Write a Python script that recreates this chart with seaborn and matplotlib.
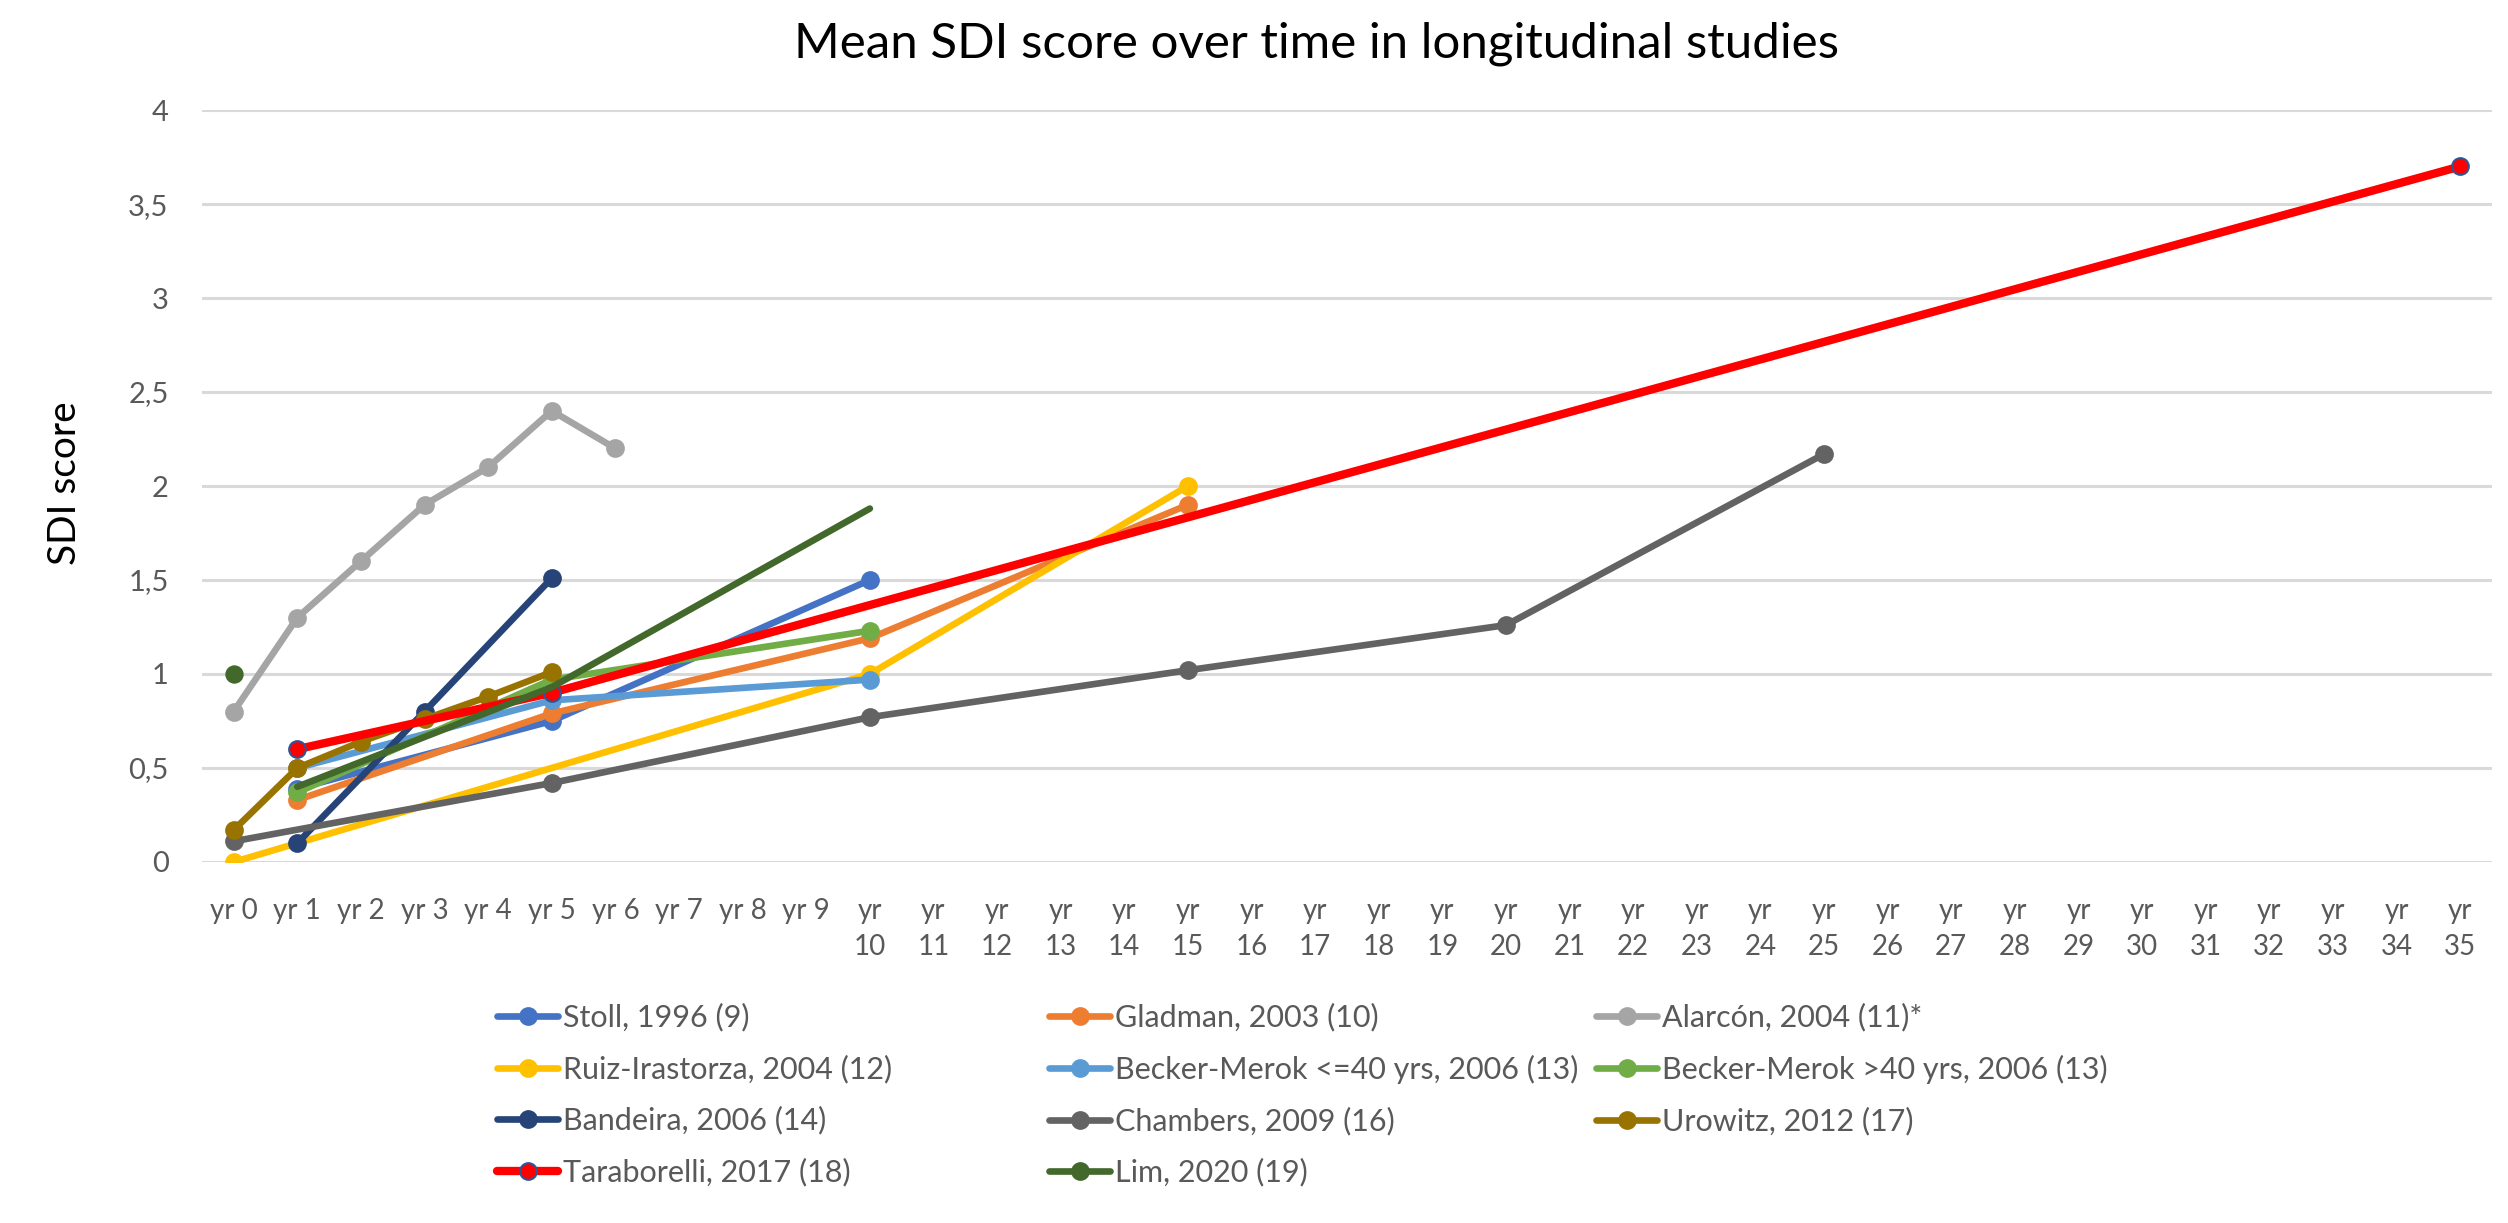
import matplotlib
matplotlib.use("Agg")
import matplotlib.pyplot as plt
import seaborn as sns
import pandas as pd
from matplotlib.lines import Line2D

sns.set_theme(style="white")
plt.rcParams['font.family'] = ['Lato', 'DejaVu Sans']

# ---------------- data ----------------
years = list(range(0, 36))
tick_labels = [f"yr {i}" for i in range(10)] + [f"yr\n{i}" for i in range(10, 36)]

stoll_x = [1, 5, 10]
stoll_y = [0.39, 0.75, 1.50]
gladman_x = [1, 5, 10, 15]
gladman_y = [0.33, 0.79, 1.19, 1.90]
alarcon_x = [0, 1, 2, 3, 4, 5, 6]
alarcon_y = [0.80, 1.30, 1.60, 1.90, 2.10, 2.40, 2.20]
ruiz_x = [0, 10, 15]
ruiz_y = [0.00, 1.00, 2.00]
becker40_x = [1, 5, 10]
becker40_y = [0.50, 0.86, 0.97]
beckerover_x = [1, 5, 10]
beckerover_y = [0.37, 0.97, 1.23]
bandeira_x = [1, 3, 5]
bandeira_y = [0.10, 0.80, 1.51]
chambers_x = [0, 5, 10, 15, 20, 25]
chambers_y = [0.11, 0.42, 0.77, 1.02, 1.26, 2.17]
urowitz_x = [0, 1, 2, 3, 4, 5]
urowitz_y = [0.17, 0.50, 0.64, 0.76, 0.88, 1.01]
tarab_x = [1, 5, 35]
tarab_y = [0.60, 0.90, 3.70]
lim_x = [1, 5, 10]
lim_y = [0.40, 0.93, 1.88]
lim_point_x = [0]
lim_point_y = [1.00]

series_names = ["Stoll, 1996 (9)", "Gladman, 2003 (10)", "Alarcón, 2004 (11)*",
                "Ruiz-Irastorza, 2004 (12)", "Becker-Merok <=40 yrs, 2006 (13)",
                "Becker-Merok >40 yrs, 2006 (13)", "Bandeira, 2006 (14)",
                "Chambers, 2009 (16)", "Urowitz, 2012 (17)", "Taraborelli, 2017 (18)",
                "Lim, 2020 (19)"]
series_x = [stoll_x, gladman_x, alarcon_x, ruiz_x, becker40_x, beckerover_x,
            bandeira_x, chambers_x, urowitz_x, tarab_x, lim_x]
series_y = [stoll_y, gladman_y, alarcon_y, ruiz_y, becker40_y, beckerover_y,
            bandeira_y, chambers_y, urowitz_y, tarab_y, lim_y]
colors = ["#4472C4", "#ED7D31", "#A5A5A5", "#FFC000", "#5B9BD5", "#70AD47",
          "#264478", "#636363", "#997300", "#FF0000", "#43682B"]
edge_colors = list(colors)
edge_colors[9] = "#2F5597"
has_marker = [True] * 10 + [False]

# ---------------- figure ----------------
fig = plt.figure(figsize=(25.08, 12.23), dpi=100)
ax = fig.add_axes([0.0805, 0.2952, 0.9131, 0.6148])

tick_col = "#595959"
grid_col = "#D9D9D9"

handles = []
for name, xs, ys, c, ec, mk in zip(series_names, series_x, series_y, colors,
                                    edge_colors, has_marker):
    df = pd.DataFrame({"x": xs, "y": ys})
    lw = 6.0 if name.startswith("Taraborelli") else 4.8
    sns.lineplot(data=df, x="x", y="y", ax=ax, color=c, linewidth=lw,
                 marker="o" if mk else None, markersize=12,
                 markerfacecolor=c, markeredgecolor=ec, markeredgewidth=1.5,
                 estimator=None, sort=False, zorder=3)
    handles.append(Line2D([0], [0], color=c, linewidth=lw, marker="o",
                          markersize=12, markerfacecolor=c, markeredgecolor=ec,
                          markeredgewidth=1.5))

sns.scatterplot(x=lim_point_x, y=lim_point_y, ax=ax, color=colors[10], s=150,
                edgecolor=colors[10], zorder=4)

ax.set_xlim(-0.5, 35.5)
ax.set_ylim(0, 4)
ax.set_xticks(years)
ax.set_xticklabels(tick_labels, fontsize=20, color=tick_col, linespacing=1.45)
yt = [0, 0.5, 1, 1.5, 2, 2.5, 3, 3.5, 4]
ax.set_yticks(yt)
ax.set_yticklabels([f"{v:g}".replace(".", ",") for v in yt], fontsize=21, color=tick_col)
ax.tick_params(axis="both", length=0)
ax.tick_params(axis="y", pad=24)
ax.tick_params(axis="x", pad=26)
for s in ax.spines.values():
    s.set_visible(False)
ax.grid(axis="y", color=grid_col, linewidth=2.2, zorder=0)
ax.set_axisbelow(True)
ax.set_xlabel("")
ax.set_ylabel("SDI score", fontsize=28, color="#000000")
ax.yaxis.set_label_coords(-0.052, 0.504)

fig.text(0.525, 0.964, "Mean SDI score over time in longitudinal studies",
         fontsize=35.5, color="#000000", ha="center", va="center")

# legend: three columns placed at fixed positions, row-wise order as original
col_members = [[0, 3, 6, 9], [1, 4, 7, 10], [2, 5, 8]]
col_left_px = [497, 1049, 1596]
top_px = 1003
for members, xl in zip(col_members, col_left_px):
    leg = fig.legend([handles[i] for i in members], [series_names[i] for i in members],
                     loc="upper left", bbox_to_anchor=(xl / 2508, 1 - top_px / 1223),
                     frameon=False, fontsize=22, handlelength=2.0, handletextpad=0.15,
                     labelspacing=0.75, borderpad=0, borderaxespad=0, numpoints=1)
    for t in leg.get_texts():
        t.set_color(tick_col)

fig.savefig("out.png", dpi=100)
